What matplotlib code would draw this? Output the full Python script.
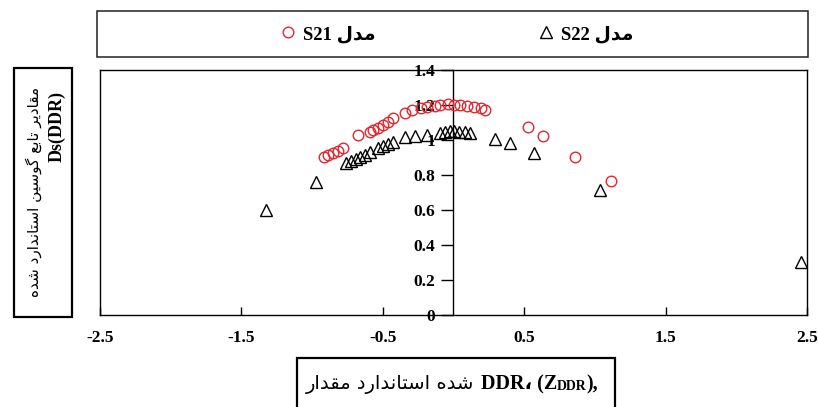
import matplotlib
matplotlib.use("Agg")
import matplotlib.pyplot as plt
from matplotlib.patches import Rectangle

# ---- data -------------------------------------------------------------
s21_x = [-0.919, -0.890, -0.855, -0.820, -0.784, -0.678, -0.594, -0.572, -0.537,
         -0.502, -0.466, -0.431, -0.346, -0.290, -0.233, -0.184, -0.134, -0.092,
         -0.042, 0.007, 0.049, 0.099, 0.148, 0.191, 0.226, 0.530, 0.636, 0.862, 1.117]
s21_y = [0.903, 0.914, 0.926, 0.937, 0.954, 1.029, 1.046, 1.057, 1.069,
         1.086, 1.103, 1.126, 1.154, 1.171, 1.183, 1.189, 1.194, 1.200,
         1.206, 1.200, 1.200, 1.194, 1.189, 1.183, 1.171, 1.074, 1.023, 0.903, 0.766]

s22_x = [-1.329, -0.975, -0.763, -0.728, -0.693, -0.664, -0.629, -0.587, -0.537,
         -0.502, -0.466, -0.431, -0.346, -0.269, -0.184, -0.092, -0.057, -0.028,
         0.007, 0.042, 0.078, 0.120, 0.297, 0.403, 0.572, 1.039, 2.459]
s22_y = [0.600, 0.760, 0.869, 0.880, 0.891, 0.903, 0.914, 0.931, 0.954,
         0.966, 0.977, 0.989, 1.017, 1.023, 1.029, 1.040, 1.046, 1.051,
         1.051, 1.046, 1.046, 1.040, 1.006, 0.983, 0.926, 0.714, 0.303]

x_ticks = [-2.5, -1.5, -0.5, 0.5, 1.5, 2.5]
x_tick_labels = ["-2.5", "-1.5", "-0.5", "0.5", "1.5", "2.5"]
y_ticks = [0, 0.2, 0.4, 0.6, 0.8, 1.0, 1.2, 1.4]
y_tick_labels = ["0", "0.2", "0.4", "0.6", "0.8", "1", "1.2", "1.4"]

series_name = "مدل"
s21_label = "S21"
s22_label = "S22"
y_title = "مقادیر تابع گوسین استاندارد شده"
y_title_2 = "Ds(DDR)"
x_title_words = ["مقدار", "استاندارد", "شده"]

# ---- Persian shaping (contextual forms, visual order) -------------------
FORMS = {
    'ا': ('\uFE8D', '\uFE8E', None, None),
    'ب': ('\uFE8F', '\uFE90', '\uFE91', '\uFE92'),
    'ت': ('\uFE95', '\uFE96', '\uFE97', '\uFE98'),
    'د': ('\uFEA9', '\uFEAA', None, None),
    'ر': ('\uFEAD', '\uFEAE', None, None),
    'س': ('\uFEB1', '\uFEB2', '\uFEB3', '\uFEB4'),
    'ش': ('\uFEB5', '\uFEB6', '\uFEB7', '\uFEB8'),
    'ع': ('\uFEC9', '\uFECA', '\uFECB', '\uFECC'),
    'ق': ('\uFED5', '\uFED6', '\uFED7', '\uFED8'),
    'ل': ('\uFEDD', '\uFEDE', '\uFEDF', '\uFEE0'),
    'م': ('\uFEE1', '\uFEE2', '\uFEE3', '\uFEE4'),
    'ن': ('\uFEE5', '\uFEE6', '\uFEE7', '\uFEE8'),
    'ه': ('\uFEE9', '\uFEEA', '\uFEEB', '\uFEEC'),
    'و': ('\uFEED', '\uFEEE', None, None),
    'ی': ('\uFBFC', '\uFBFD', '\uFBFE', '\uFBFF'),
    'گ': ('\uFB92', '\uFB93', '\uFB94', '\uFB95'),
}


def shape_word(w):
    out = []
    for i, c in enumerate(w):
        f = FORMS.get(c)
        if f is None:
            out.append(c)
            continue
        prev = w[i - 1] if i > 0 else None
        nxt = w[i + 1] if i + 1 < len(w) else None
        pj = prev in FORMS and FORMS[prev][2] is not None
        nj = nxt in FORMS and f[2] is not None
        if pj and nj:
            g = f[3]
        elif pj:
            g = f[1]
        elif nj:
            g = f[2]
        else:
            g = f[0]
        out.append(g)
    return ''.join(reversed(out))


def rtl(text):
    return ' '.join(shape_word(w) for w in reversed(text.split(' ')))


LAT = ['Liberation Serif', 'DejaVu Sans']
plt.rcParams['font.family'] = LAT

W, H = 820, 407
fig = plt.figure(figsize=(W / 100, H / 100), dpi=100)
fig.patch.set_facecolor('white')


def fx(px):
    return px / W


def fy(py):
    return 1 - py / H


ax = fig.add_axes([fx(100), fy(315), fx(807) - fx(100), fy(70) - fy(315)])
ax.set_xlim(-2.5, 2.5)
ax.set_ylim(0, 1.4)

red = '#e3262e'
ax.plot(s21_x, s21_y, linestyle='none', marker='o', ms=7.6, mfc='none',
        mec=red, mew=1.0, clip_on=False, zorder=3,
        label=s21_label + ' ' + shape_word(series_name))
ax.plot(s22_x, s22_y, linestyle='none', marker='^', ms=8.6, mfc='none',
        mec='black', mew=1.0, clip_on=False, zorder=3,
        label=s22_label + ' ' + shape_word(series_name))

for s in ['top', 'right', 'bottom']:
    ax.spines[s].set_linewidth(1.0)
ax.spines['left'].set_position(('data', 0))
ax.spines['left'].set_linewidth(1.0)
ax.axvline(-2.5, color='black', lw=1.0, clip_on=False, zorder=4)

ax.set_xticks(x_ticks)
ax.set_xticklabels(x_tick_labels, fontweight='bold', fontsize=12.5)
ax.tick_params(axis='x', direction='in', length=6, width=1.0, pad=11)
ax.set_yticks(y_ticks)
ax.set_yticklabels(y_tick_labels, fontweight='bold', fontsize=12.5)
ax.tick_params(axis='y', direction='out', length=9, width=1.0, pad=4)

# legend strip
leg = ax.legend(loc='center', bbox_to_anchor=(fx(456), fy(34)),
                bbox_transform=fig.transFigure, ncol=2, frameon=False,
                columnspacing=8.6, handletextpad=0.3, handlelength=1.0,
                prop={'weight': 'bold', 'size': 13.5, 'family': LAT})
fig.patches.append(Rectangle((fx(97), fy(57)), fx(808) - fx(97), fy(11) - fy(57),
                             transform=fig.transFigure, fill=False, lw=1.1,
                             edgecolor='#222222'))

# y title box
fig.patches.append(Rectangle((fx(14), fy(317)), fx(72) - fx(14), fy(68) - fy(317),
                             transform=fig.transFigure, fill=False, lw=1.6,
                             edgecolor='black'))
fig.text(fx(34), fy(192), rtl(y_title), rotation=90, ha='center', va='center',
         fontsize=11, family=['DejaVu Sans'])
fig.text(fx(57), fy(126), y_title_2, rotation=90, ha='center', va='center',
         fontsize=13, fontweight='bold', family=LAT)

# x title box
fig.patches.append(Rectangle((fx(297), fy(420)), fx(615) - fx(297), fy(358) - fy(420),
                             transform=fig.transFigure, fill=False, lw=1.6,
                             edgecolor='black'))
ar = ' '.join(shape_word(w) for w in x_title_words)
t1 = fig.text(fx(306), fy(384), ar + ' ', ha='left', va='center', fontsize=14,
              family=['DejaVu Sans'])
fig.canvas.draw()
r = fig.canvas.get_renderer()
bb = t1.get_window_extent(r)
t2 = fig.text(bb.x1 / W, fy(384), 'DDR\u060C (Z', ha='left', va='center',
              fontsize=14.5, fontweight='bold', family=LAT)
bb2 = t2.get_window_extent(r)
t3 = fig.text(bb2.x1 / W, fy(384) - 2.5 / H, 'DDR', ha='left', va='center',
              fontsize=10, fontweight='bold', family=LAT)
bb3 = t3.get_window_extent(r)
fig.text(bb3.x1 / W, fy(384), '),', ha='left', va='center',
         fontsize=14.5, fontweight='bold', family=LAT)

fig.savefig('out.png', dpi=100, facecolor='white')
